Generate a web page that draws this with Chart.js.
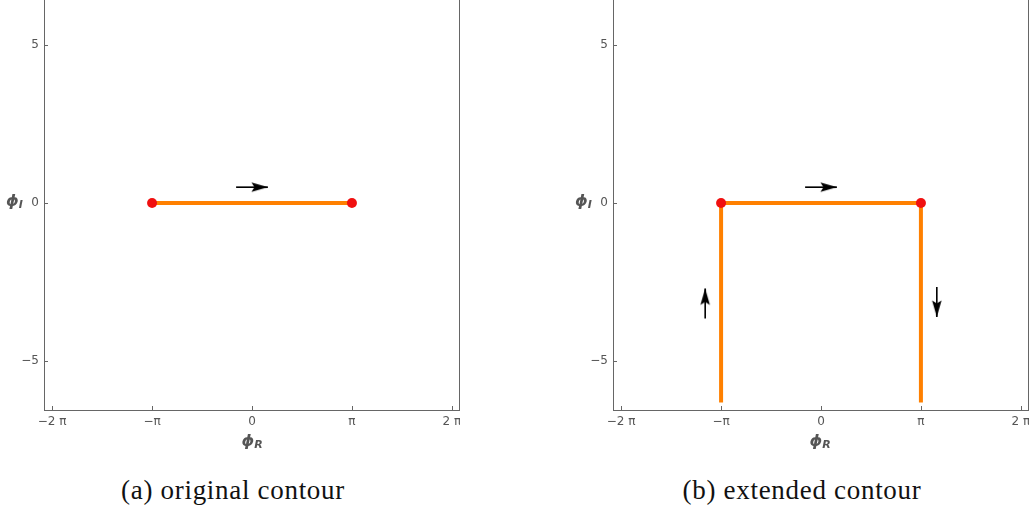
<!DOCTYPE html>
<html>
<head>
<meta charset="utf-8">
<script src="https://cdn.jsdelivr.net/npm/chart.js@4.4.0/dist/chart.umd.min.js"></script>
<style>
  body { margin: 0; width: 1029px; height: 514px; overflow: hidden; background: #fff; position: relative; }
  .panel { position: absolute; top: -4px; width: 460px; height: 440px; }
  .axt { position: absolute; color: #555; font: bold italic 16px "DejaVu Sans", sans-serif; }
  .axt sub { font-size: 11px; vertical-align: -2px; }
  .cap { position: absolute; top: 475px; width: 400px; text-align: center; font: 27px "Liberation Serif", serif; letter-spacing: 0.7px; color: #111; }
</style>
</head>
<body>
<div class="panel" style="left:0px"><canvas id="chartA"></canvas></div>
<div class="panel" style="left:569px"><canvas id="chartB"></canvas></div>

<div class="axt" style="left:202px; top:431px; width:100px; text-align:center">ϕ<sub>R</sub></div>
<div class="axt" style="left:770px; top:431px; width:100px; text-align:center">ϕ<sub>R</sub></div>
<div class="axt" style="left:6px; top:191px">ϕ<sub>I</sub></div>
<div class="axt" style="left:575px; top:191px">ϕ<sub>I</sub></div>

<div class="cap" style="left:33px">(a) original contour</div>
<div class="cap" style="left:602px">(b) extended contour</div>

<script>
const PI = Math.PI;
const xTickVals = [-2 * PI, -PI, 0, PI, 2 * PI];
const xTickLabels = ['\u22122 \u03c0', '\u2212\u03c0', '0', '\u03c0', '2 \u03c0'];
const yTickVals = [-5, 0, 5];
const yTickLabels = ['\u22125', '0', '5'];
const axisMin = -6.54, axisMax = 6.54;

// (a) original contour
const contourAX = [-PI, PI];
const contourAY = [0, 0];
// (b) extended contour
const contourBX = [-PI, -PI, PI, PI];
const contourBY = [-6.3, 0, 0, -6.3];
// red end points
const endX = [-PI, PI];
const endY = [0, 0];
// direction arrows, [x0, y0, x1, y1]
const arrowTop = [-0.5, 0.5, 0.5, 0.5];
const arrowUp = [-PI - 0.5, -3.65, -PI - 0.5, -2.7];
const arrowDown = [PI + 0.5, -2.65, PI + 0.5, -3.6];

const ORANGE = '#ff8000';
const RED = '#f01010';
const GRAY = '#666';

function pts(xs, ys) {
  return xs.map((x, i) => ({ x: x, y: ys[i] }));
}

// slim arrow head, tip in the middle of the canvas
function makeHead() {
  const c = document.createElement('canvas');
  c.width = 36; c.height = 12;
  const g = c.getContext('2d');
  g.fillStyle = '#000';
  g.beginPath();
  g.moveTo(18, 6);
  g.lineTo(1.5, 1.2);
  g.lineTo(4.5, 6);
  g.lineTo(1.5, 10.8);
  g.closePath();
  g.fill();
  return c;
}
const head = makeHead();

function arrowSet(a) {
  const rot = Math.atan2(-(a[3] - a[1]), a[2] - a[0]) * 180 / PI;
  return {
    data: [{ x: a[0], y: a[1] }, { x: a[2], y: a[3] }],
    showLine: true,
    borderColor: '#000',
    borderWidth: 1.6,
    pointRadius: [0, 6],
    pointStyle: head,
    rotation: rot,
    order: 1
  };
}

const framePlugin = {
  id: 'frame',
  beforeDatasetsDraw(chart) {
    const a = chart.chartArea, c = chart.ctx;
    const xs = chart.scales.x, ys = chart.scales.y;
    c.save();
    c.strokeStyle = GRAY;
    c.lineWidth = 1;
    c.strokeRect(Math.round(a.left) + 0.5, Math.round(a.top) + 0.5, Math.round(a.right - a.left) - 1, Math.round(a.bottom - a.top));
    c.beginPath();
    xTickVals.forEach(v => {
      const px = Math.round(xs.getPixelForValue(v)) + 0.5;
      c.moveTo(px, a.bottom); c.lineTo(px, a.bottom - 4);
    });
    yTickVals.forEach(v => {
      const py = Math.round(ys.getPixelForValue(v)) + 0.5;
      c.moveTo(a.left, py); c.lineTo(a.left + 4, py);
    });
    c.stroke();
    c.restore();
  }
};

function makeChart(id, lineX, lineY, arrows) {
  const datasets = [
    { data: pts(endX, endY), pointRadius: 5, pointBackgroundColor: RED, pointBorderWidth: 0, showLine: false, order: 0 },
    { data: pts(lineX, lineY), showLine: true, borderColor: ORANGE, borderWidth: 4, pointRadius: 0, order: 2 }
  ];
  arrows.forEach(a => datasets.push(arrowSet(a)));
  return new Chart(document.getElementById(id), {
    type: 'scatter',
    data: { datasets: datasets },
    options: {
      responsive: true,
      maintainAspectRatio: false,
      animation: false,
      events: [],
      layout: { autoPadding: false, padding: 0 },
      plugins: { legend: { display: false }, tooltip: { enabled: false } },
      scales: {
        x: {
          type: 'linear', min: axisMin, max: axisMax,
          grid: { display: false, drawTicks: false },
          border: { display: false },
          afterBuildTicks: s => { s.ticks = xTickVals.map(v => ({ value: v })); },
          afterFit: s => { s.height = 26; s.paddingLeft = 0; s.paddingRight = 0; },
          ticks: {
            padding: 5, color: '#555', maxRotation: 0, autoSkip: false,
            font: { family: 'DejaVu Sans', size: 12 },
            callback: (v, i) => xTickLabels[i]
          }
        },
        y: {
          type: 'linear', min: axisMin, max: axisMax,
          grid: { display: false, drawTicks: false },
          border: { display: false },
          afterBuildTicks: s => { s.ticks = yTickVals.map(v => ({ value: v })); },
          afterFit: s => { s.width = 44; s.paddingTop = 0; s.paddingBottom = 0; },
          ticks: {
            padding: 5, color: '#555', autoSkip: false,
            font: { family: 'DejaVu Sans', size: 12 },
            callback: (v, i) => yTickLabels[i]
          }
        }
      }
    },
    plugins: [framePlugin]
  });
}

makeChart('chartA', contourAX, contourAY, [arrowTop]);
makeChart('chartB', contourBX, contourBY, [arrowTop, arrowUp, arrowDown]);
</script>
</body>
</html>
